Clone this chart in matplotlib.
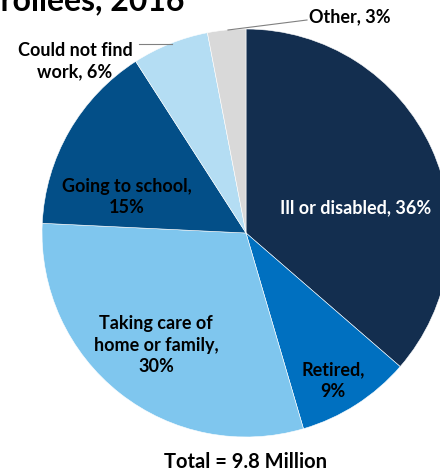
import matplotlib.pyplot as plt

# shares of non-working enrollees by reason, clockwise from 12 o'clock
reasons = ['Ill or disabled', 'Retired', 'Taking care of\nhome or family',
           'Going to school', 'Could not find\nwork', 'Other']
shares = [36, 9, 30, 15, 6, 3]
colors = ['#132e4f', '#0070c0', '#7fc6ee', '#034f88', '#b4ddf3', '#d9d9d9']

plt.rcParams['font.family'] = ['Lato', 'DejaVu Sans']

fig = plt.figure(figsize=(4.4, 4.72), dpi=100)
ax = fig.add_axes([0, 0, 1, 1])

cx, cy, r = 246, 239, 204
ax.pie(shares, colors=colors, startangle=90, counterclock=False,
       center=(cx, cy), radius=r, frame=True,
       wedgeprops=dict(edgecolor='white', linewidth=0.4))
ax.set_xlim(0, 440)
ax.set_ylim(0, 472)
ax.set_aspect('equal')
ax.axis('off')

fs = 13
ls = 1.35
ax.text(356, 264, 'Ill or disabled, 36%', color='white', fontsize=fs,
        fontweight='bold', ha='center', va='center')
ax.text(333, 91, 'Retired,\n9%', color='black', fontsize=fs,
        fontweight='bold', ha='center', va='center', linespacing=ls)
ax.text(156, 127, 'Taking care of\nhome or family,\n30%', color='black',
        fontsize=fs, fontweight='bold', ha='center', va='center', linespacing=ls)
ax.text(127, 275, 'Going to school,\n15%', color='black', fontsize=fs,
        fontweight='bold', ha='center', va='center', linespacing=ls)
ax.text(75, 411, 'Could not find\nwork, 6%', color='black', fontsize=fs,
        fontweight='bold', ha='center', va='center', linespacing=ls)
ax.plot([139, 172], [428, 428], color='#808080', lw=0.8)
ax.text(309, 455, 'Other, 3%', color='black', fontsize=fs,
        fontweight='bold', ha='left', va='center')
ax.plot([228, 307], [442, 452], color='#808080', lw=0.8)

ax.text(184, 462, 'Enrollees, 2016', color='black', fontsize=23,
        fontweight='bold', ha='right', va='baseline')
ax.text(245, 10, 'Total = 9.8 Million', color='black', fontsize=14.5,
        fontweight='bold', ha='center', va='center')

fig.savefig('out.png', dpi=100)
